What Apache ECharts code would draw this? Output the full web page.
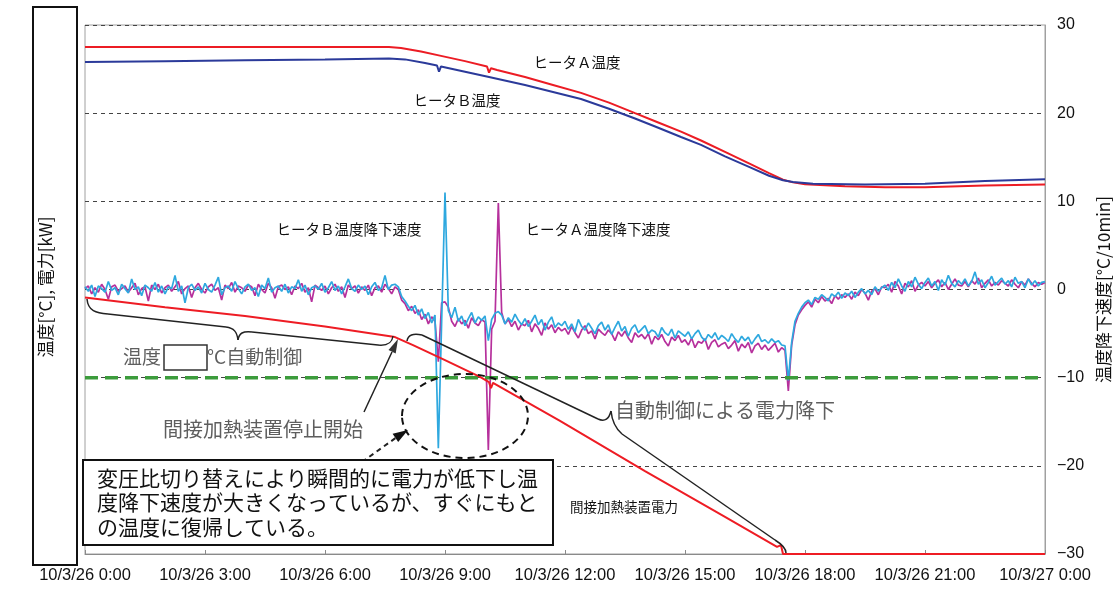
<!DOCTYPE html>
<html>
<head>
<meta charset="utf-8">
<script src="https://cdn.jsdelivr.net/npm/echarts@6/dist/echarts.min.js"></script>
<style>
  html, body { margin: 0; padding: 0; background: #fff; }
  #chart { width: 1113px; height: 590px; }
</style>
</head>
<body>
<div id="chart"></div>
<script>
// 横軸の目盛ラベル（3時間ごと）
var xTickLabels = ['10/3/26 0:00', '10/3/26 3:00', '10/3/26 6:00', '10/3/26 9:00', '10/3/26 12:00',
  '10/3/26 15:00', '10/3/26 18:00', '10/3/26 21:00', '10/3/27 0:00'];

// 温度降下速度は5分ごとの値（0:00〜24:00）
var stepMin = 5;

// ヒータB温度降下速度 [°C/10min]
var rateB = [
  0.3, -0.2, 0.5, -0.8, 0.4, 0.1, -0.3, 0.9, -0.1, 0.2, -0.6, 0.6,
  0.1, -0.4, 1.2, 0.0, 0.3, -0.7, 0.5, 0.2, -0.2, 0.8, -0.3, 0.4,
  -0.5, 0.3, 0.1, 1.6, -0.2, 0.4, -1.5, 0.2, 0.6, -0.1, 0.3, -0.4,
  0.7, 0.0, -0.3, 0.5, 1.4, -0.6, 0.2, 0.4, -0.2, 0.9, 0.1, -0.5,
  0.3, 0.6, -0.1, 0.2, -0.8, 0.5, 0.1, 1.3, -0.3, 0.2, 0.4, -0.2,
  0.6, -0.4, 0.3, 0.1, 1.1, -0.2, 0.5, -0.6, 0.2, 0.4, 0.0, 0.7,
  -0.3, 0.2, 0.9, -0.1, 0.4, -0.5, 0.3, 1.2, 0.1, -0.2, 0.5, 0.0,
  0.4, -0.6, 0.3, 0.8, -0.1, 0.2, 1.6, 0.0, 0.5, 0.6, 0.3, -0.8,
  -1.3, -1.9, -2.4, -1.8, -2.9, -2.2, -3.3, -2.6, -3.8, -2.9, -18.0, -3.6,
  11.0, -2.4, -3.2, -2.0, -3.6, -3.0, -4.1, -3.3, -2.6, -3.8, -3.1, -3.5,
  -3.0, -5.8, -3.4, -2.7, -2.5, -2.9, -3.9, -3.2, -3.7, -2.8, -3.5, -4.0,
  -3.3, -4.2, -3.6, -2.9, -4.0, -3.4, -4.6, -3.7, -3.1, -4.3, -3.8, -4.1,
  -3.6, -4.5, -3.9, -4.8, -3.4, -4.2, -4.6, -3.8, -4.4, -5.0, -4.1, -3.7,
  -4.6, -4.0, -5.1, -4.3, -3.6, -4.7, -4.2, -5.3, -4.4, -4.0, -4.9, -4.5,
  -4.1, -5.0, -4.6, -4.8, -5.4, -4.3, -4.9, -5.2, -4.5, -5.5, -4.7, -5.0,
  -5.3, -4.8, -5.6, -5.0, -4.6, -5.4, -5.8, -5.1, -5.5, -4.9, -5.7, -5.2,
  -5.5, -5.9, -5.0, -5.6, -6.0, -5.3, -5.8, -5.4, -6.2, -5.6, -5.1, -5.9,
  -5.7, -6.1, -5.6, -6.0, -5.8, -6.3, -6.4, -10.3, -6.0, -3.6, -2.7, -2.0,
  -1.5, -1.2, -1.7, -0.9, -1.1, -0.6, -0.9, -1.3, -0.5, -0.8, -0.3, -1.0,
  -0.4, -0.7, -0.2, -0.9, -0.3, 0.1, -0.5, -0.1, -0.6, 0.3, -0.2, 0.2,
  0.5, -0.1, 0.8, 0.2, 1.2, 0.4, -0.2, 0.9, 0.3, 1.4, 0.6, 0.1,
  0.8, 1.3, 0.4, 0.9, -0.1, 1.1, 0.5, 1.6, 0.7, 0.3, 1.0, 0.6,
  1.2, 0.4, 0.9, 2.0, 0.6, 1.1, 0.2, 0.8, 1.5, 0.5, 0.9, 1.3,
  0.6, 1.0, 0.3, 1.4, 0.7, 0.9, 0.2, 1.2, 0.5, 1.0, 0.4, 0.8,
  0.9
];

// ヒータA温度降下速度 [°C/10min]
var rateA = [
  0.1, 0.4, -0.5, 0.2, -0.3, 0.6, 0.0, -1.1, 0.3, 0.5, -0.2, 0.1,
  0.4, -0.3, 0.2, 0.7, -0.6, 0.1, 0.3, -1.3, 0.5, 0.0, 0.6, -0.4,
  0.2, 0.5, -0.2, 0.3, 0.9, -0.5, 0.1, 0.4, -0.9, 0.2, 0.7, 0.0,
  -0.4, 0.3, 0.6, -0.1, 0.2, -1.2, 0.5, 0.1, 0.8, -0.3, 0.4, 0.2,
  -0.2, 0.5, 0.3, -0.7, 0.6, 0.0, -0.4, 0.7, 0.2, -1.0, 0.3, 0.5,
  0.0, 0.3, -0.6, 0.4, 0.1, 0.7, -0.3, 0.2, -1.4, 0.5, 0.2, -0.1,
  0.4, -0.5, 0.2, 0.6, -0.2, 0.3, -0.9, 0.5, 0.1, 0.4, -0.4, 0.3,
  -0.1, 0.5, -0.7, 0.2, 0.4, -0.3, 0.6, 0.1, -0.5, 0.3, 0.0, -1.2,
  -1.6, -2.4, -1.9, -2.7, -2.3, -3.4, -2.8, -3.9, -3.1, -3.6, -8.2, -1.5,
  -1.4, -2.0, -3.6, -4.2, -3.3, -3.9, -3.5, -4.4, -3.2, -3.8, -4.1, -3.4,
  -3.7, -18.2, -4.5, -3.6, 9.8, -2.6, -3.9, -3.4, -4.2, -3.6, -4.6, -3.9,
  -4.1, -3.5, -4.8, -3.9, -4.4, -5.2, -3.8, -4.5, -4.0, -4.9, -4.3, -4.7,
  -4.4, -5.1, -4.2, -4.9, -5.5, -4.6, -4.1, -5.0, -4.7, -5.6, -4.5, -4.9,
  -5.2, -4.6, -5.0, -5.8, -4.8, -5.3, -4.7, -5.5, -6.0, -4.9, -5.4, -5.1,
  -5.6, -5.0, -6.2, -5.3, -5.7, -5.1, -5.9, -6.4, -5.4, -5.8, -5.2, -6.0,
  -5.7, -6.3, -5.5, -6.6, -5.9, -6.1, -5.6, -6.8, -6.0, -5.7, -6.5, -6.2,
  -6.0, -6.7, -6.3, -5.8, -7.0, -6.2, -6.6, -6.0, -7.2, -6.4, -6.1, -6.8,
  -6.3, -6.9, -6.5, -6.1, -7.1, -6.6, -6.9, -11.5, -6.3, -4.0, -2.9, -2.3,
  -1.8, -1.4, -2.0, -1.1, -1.5, -0.8, -1.3, -1.0, -1.6, -0.7, -1.1, -0.6,
  -0.9, -0.5, -1.1, -0.3, -0.7, 0.0, -0.4, -1.2, -0.2, 0.1, -0.6, 0.3,
  0.2, 0.6, -0.3, 0.9, 0.4, -0.5, 0.7, 0.3, 1.0, -0.2, 0.5, 0.8,
  0.4, 0.9, 0.2, 0.7, 1.1, 0.3, 0.8, 0.0, 0.6, 1.2, 0.5, 0.4,
  0.9, 0.3, 1.0, 0.6, 1.3, 0.2, 0.7, 1.1, 0.4, 0.8, 0.5, 1.0,
  0.7, 0.4, 1.1, 0.6, 0.2, 0.9, 0.5, 1.2, 0.7, 0.3, 0.8, 0.6,
  0.8
];

// ヒータ温度 [°C] と間接加熱装置電力 [kW]：[時刻(h), 値]
var tempA = [[0, 27.5], [7.6, 27.5], [7.9, 27.4], [8.4, 27.0], [8.9, 26.5], [9.5, 25.9], [10.05, 25.3],
  [10.1, 24.6], [10.15, 25.1], [10.3, 24.9], [11, 24.1], [11.7, 23.2], [12.4, 22.3], [13.1, 21.2],
  [13.75, 20.0], [14.3, 19.0], [14.9, 17.9], [15.4, 16.9], [16, 15.6], [16.6, 14.3], [17.1, 13.2],
  [17.45, 12.45], [17.7, 12.15], [18, 11.95], [19, 11.7], [20, 11.6], [21, 11.6], [22.5, 11.8], [24, 11.9]];
var tempB = [[0, 25.8], [2, 25.9], [4, 26.0], [6, 26.1], [7.6, 26.2], [8, 26.1], [8.5, 25.7], [8.8, 25.4],
  [8.85, 24.7], [8.9, 25.3], [9.5, 24.7], [10.1, 24.1], [11, 23.2], [11.7, 22.4], [12.4, 21.6],
  [13.1, 20.5], [13.75, 19.4], [14.3, 18.4], [14.9, 17.3], [15.4, 16.4], [16, 15.1], [16.6, 13.9],
  [17.1, 12.9], [17.45, 12.4], [17.7, 12.2], [18.2, 12.0], [19.5, 11.9], [21, 12.0], [22.5, 12.3], [24, 12.5]];
var power = [[0, -0.9], [2, -2.0], [4, -3.0], [6, -4.2], [7.75, -5.4], [8.2, -6.3], [9, -8.0], [9.875, -9.9],
  [10.1, -10.5], [10.15, -11.2], [10.2, -10.6], [11.875, -14.9], [14, -20.6], [16, -25.8], [17.3, -29.2],
  [17.4, -29.0], [17.45, -30], [24, -30]];

// 温度降下速度の基準線
var limitLevel = -10;

function toPairs(arr) {
  return arr.map(function (v, i) { return [i * stepMin / 60, v]; });
}

var jp = '"Noto Sans CJK JP"';
var gray = '#5e5e5e';

function txt(x, y, text, size, color, align) {
  return {
    type: 'text', x: x, y: y, z: 100,
    style: {
      text: text, fontSize: size, fontFamily: jp, fill: color || '#111',
      align: align || 'center', textAlign: align || 'center',
      verticalAlign: 'middle', textVerticalAlign: 'middle'
    }
  };
}
function bez(x1, y1, c1x, c1y, c2x, c2y, x2, y2) {
  return {
    type: 'bezierCurve', z: 100,
    shape: { x1: x1, y1: y1, cpx1: c1x, cpy1: c1y, cpx2: c2x, cpy2: c2y, x2: x2, y2: y2 },
    style: { stroke: '#222', lineWidth: 1.5, fill: 'none' }
  };
}
function seg(x1, y1, x2, y2, dash) {
  return {
    type: 'line', z: 100,
    shape: { x1: x1, y1: y1, x2: x2, y2: y2 },
    style: { stroke: '#222', lineWidth: dash ? 2 : 1.5, lineDash: dash || null }
  };
}

var chartDom = document.getElementById('chart');
var myChart = echarts.init(chartDom);

var option = {
  animation: false,
  grid: {
    left: 85, right: 68, top: 25, bottom: 36, outerBoundsMode: 'none', containLabel: false,
    show: true, borderColor: '#a0a0a0', borderWidth: 1
  },
  xAxis: {
    type: 'value', min: 0, max: 24, interval: 3,
    axisLine: { show: true, onZero: false, lineStyle: { color: '#8a8a8a' } },
    axisTick: { show: true, inside: true, length: 4, lineStyle: { color: '#8a8a8a' } },
    axisLabel: {
      formatter: function (v) { return xTickLabels[Math.round(v / 3)]; },
      color: '#111', fontSize: 16.5, fontFamily: 'Liberation Sans', margin: 13
    },
    splitLine: { show: false }
  },
  yAxis: [
    {
      type: 'value', min: -30, max: 30, interval: 10, position: 'left',
      axisLabel: { show: false }, axisLine: { show: false }, axisTick: { show: false }, splitLine: { show: false }
    },
    {
      type: 'value', min: -30, max: 30, interval: 10, position: 'right',
      name: '温度降下速度[°C/10min]', nameLocation: 'middle', nameGap: 45, nameRotate: 90,
      nameTextStyle: { fontSize: 17, fontFamily: jp, color: '#111' },
      axisLine: { show: true, lineStyle: { color: '#a0a0a0' } },
      axisTick: { show: false },
      axisLabel: {
        formatter: function (v) { return String(v).replace('-', '\u2212'); },
        color: '#111', fontSize: 16, fontFamily: 'Liberation Sans', margin: 12
      },
      splitLine: { show: true, lineStyle: { type: [4, 4], color: '#444', width: 1 } }
    }
  ],
  series: [
    {
      name: 'ヒータA温度降下速度', type: 'line', yAxisIndex: 1, data: toPairs(rateA),
      showSymbol: false, lineStyle: { color: '#b6309c', width: 1.7 }, z: 3
    },
    {
      name: 'ヒータB温度降下速度', type: 'line', yAxisIndex: 1, data: toPairs(rateB),
      showSymbol: false, lineStyle: { color: '#2ea8df', width: 1.7 }, z: 4
    },
    {
      name: '基準', type: 'line', yAxisIndex: 1, data: [[0, limitLevel], [24, limitLevel]],
      showSymbol: false, lineStyle: { color: '#3c9c3c', width: 3.5, type: [13, 7] }, z: 5
    },
    {
      name: 'ヒータA温度', type: 'line', yAxisIndex: 0, data: tempA,
      showSymbol: false, lineStyle: { color: '#ec1c24', width: 2 }, z: 6
    },
    {
      name: 'ヒータB温度', type: 'line', yAxisIndex: 0, data: tempB,
      showSymbol: false, lineStyle: { color: '#2b3a9a', width: 2 }, z: 7
    },
    {
      name: '間接加熱装置電力', type: 'line', yAxisIndex: 0, data: power,
      showSymbol: false, lineStyle: { color: '#ee1c24', width: 2 }, z: 6
    }
  ],
  graphic: {
    elements: [
      // 左の縦軸名の枠
      { type: 'rect', z: 100, shape: { x: 33, y: 7, width: 44, height: 558 }, style: { fill: '#fff', stroke: '#111', lineWidth: 2 } },
      { type: 'text', x: 46, y: 287, rotation: Math.PI / 2, z: 101,
        style: { text: '温度[°C], 電力[kW]', fontSize: 17, fontFamily: jp, fill: '#111',
          align: 'center', textAlign: 'center', verticalAlign: 'middle', textVerticalAlign: 'middle' } },

      // 系列名
      txt(577, 62, 'ヒータＡ温度', 14.5),
      txt(457, 100, 'ヒータＢ温度', 14.5),
      txt(349, 229, 'ヒータＢ温度降下速度', 14.5),
      txt(598, 229, 'ヒータＡ温度降下速度', 14.5),
      txt(570, 507, '間接加熱装置電力', 13.5, '#111', 'left'),

      // 温度□°C自動制御
      txt(123, 357, '温度', 19, gray, 'left'),
      { type: 'rect', z: 100, shape: { x: 164, y: 345, width: 43, height: 25 }, style: { fill: '#fff', stroke: '#333', lineWidth: 1.5 } },
      txt(207, 357, '°C自動制御', 19, gray, 'left'),

      // 左の波括弧
      bez(87, 299, 88, 311, 96, 313, 108, 314),
      seg(108, 314, 226, 327),
      bez(226, 327, 234, 328, 237, 332, 238, 340),
      bez(238, 340, 239, 333, 243, 331, 252, 332),
      seg(252, 332, 378, 345),
      bez(378, 345, 388, 346, 392, 343, 393, 336),

      // 自動制御による電力降下の波括弧
      bez(407, 341, 408, 335, 413, 333, 422, 335),
      seg(422, 335, 598, 419),
      bez(598, 419, 605, 422, 609, 419, 611, 411),
      bez(611, 411, 612, 421, 615, 428, 622, 434),
      seg(622, 434, 775, 540),
      bez(775, 540, 783, 545, 786, 549, 786, 553),
      txt(615, 410, '自動制御による電力降下', 20, gray, 'left'),

      // 間接加熱装置停止開始の矢印
      txt(163, 429, '間接加熱装置停止開始', 20, gray, 'left'),
      seg(364, 412, 392, 352),
      { type: 'polygon', z: 100, shape: { points: [[398, 339], [395.7, 353.4], [388.5, 350.0]] }, style: { fill: '#333' } },

      // 破線の楕円と矢印
      { type: 'ellipse', z: 100, shape: { cx: 465, cy: 416, rx: 63, ry: 42 },
        style: { fill: 'none', stroke: '#111', lineWidth: 2, lineDash: [7, 5] } },
      seg(362, 462, 397, 437, [5, 4]),
      { type: 'polygon', z: 100, shape: { points: [[408, 430], [398.2, 442.0], [392.6, 433.8]] }, style: { fill: '#111' } },

      // 説明の枠
      { type: 'rect', z: 100, shape: { x: 83, y: 460, width: 470, height: 85 }, style: { fill: '#fff', stroke: '#111', lineWidth: 2 } },
      txt(97, 478, '変圧比切り替えにより瞬間的に電力が低下し温', 21, '#111', 'left'),
      txt(97, 502, '度降下速度が大きくなっているが、すぐにもと', 21, '#111', 'left'),
      txt(97, 527, 'の温度に復帰している。', 21, '#111', 'left')
    ]
  }
};

myChart.setOption(option);
</script>
</body>
</html>
